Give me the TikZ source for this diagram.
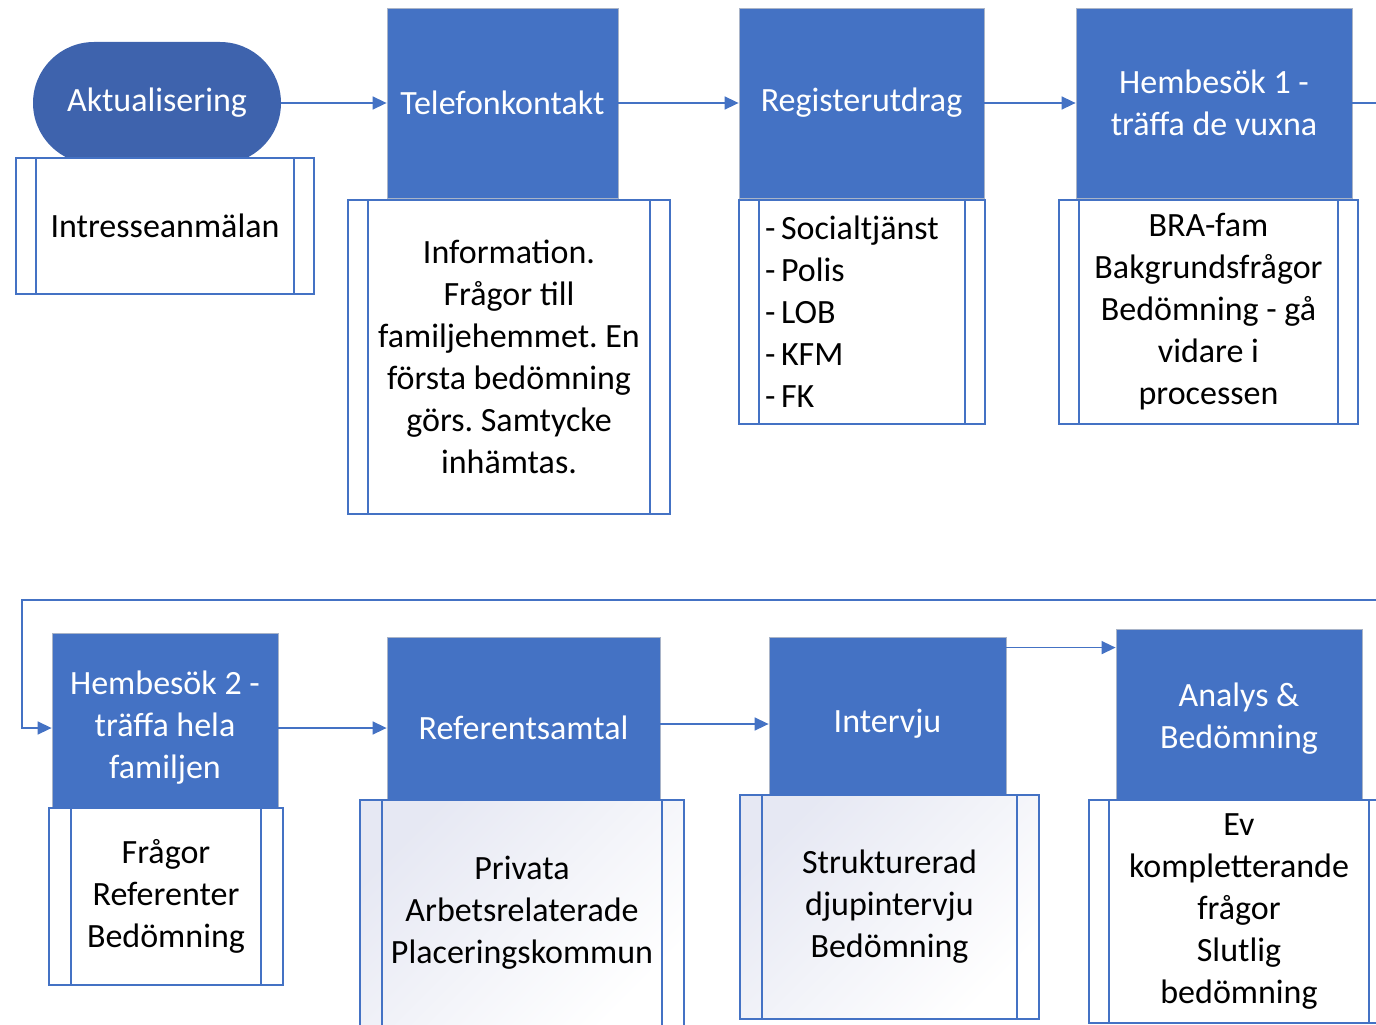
\documentclass[tikz,border=0pt]{standalone}
\usepackage{fontspec}
\setmainfont{Carlito}
\frenchspacing
\usetikzlibrary{arrows.meta}
\definecolor{hdrblue}{HTML}{4472C4}
\definecolor{startblue}{HTML}{3E63AD}
\definecolor{hdrrim}{HTML}{A9B4C8}
\definecolor{shadebg}{HTML}{E6E8F3}
\tikzset{
  hdr/.style={rectangle,fill=hdrblue,draw=hdrrim,line width=0.8pt,text=white,align=center,inner sep=0pt},
  startnode/.style={rectangle,rounded corners=61pt,fill=startblue,text=white,inner sep=0pt,
    minimum width=248pt,minimum height=122pt},
  bodybox/.style={rectangle,draw=hdrblue,fill=white,line width=1.5pt,align=center,inner sep=0pt,
    path picture={\draw[hdrblue,line width=1.5pt]
      ([xshift=#1]path picture bounding box.north west) -- ([xshift=#1]path picture bounding box.south west)
      ([xshift=-#1]path picture bounding box.north east) -- ([xshift=-#1]path picture bounding box.south east);}},
  bodybox/.default=20pt,
  softfill/.style={top color=shadebg,bottom color=white,shading angle=45},
  flow/.style={color=hdrblue,line width=1.5pt,-{Triangle[length=14pt,width=13pt]}}
}
\begin{document}
\begin{tikzpicture}[x=1pt,y=-1pt,font=\fontsize{34}{42}\selectfont]
   \useasboundingbox (0,0) rectangle (1376,1025);
   \node[startnode] (akt) at (157,103) {Aktualisering};
   \node[bodybox,minimum width=298pt,minimum height=136pt] (intr) at (165,226) {Intresseanmälan};
   \node[hdr,minimum width=231pt,minimum height=190pt] (tel) at (502.5,103) {Telefonkontakt};
   \node[bodybox,minimum width=322pt,minimum height=314pt] (info) at (509,357)
      {Information.\\Frågor till\\familjehemmet. En\\första bedömning\\görs. Samtycke\\inhämtas.};
   \node[hdr,minimum width=245pt,minimum height=190pt] (reg) at (861.5,103) {Registerutdrag};
   \node[bodybox,minimum width=246pt,minimum height=224pt,align=left,text width=194pt] (regbox) at (862,312)
      {-\,Socialtjänst\\-\,Polis\\-\,LOB\\-\,KFM\\-\,FK};
   \node[hdr,minimum width=276pt,minimum height=190pt] (hem1) at (1214,103) {Hembesök 1 -\\träffa de vuxna};
   \node[bodybox,minimum width=299pt,minimum height=224pt] (bra) at (1208.5,312)
      {BRA-fam\\Bakgrundsfrågor\\Bedömning - gå\\vidare i\\processen};
   \node[hdr,minimum width=226pt,minimum height=190pt] (hem2) at (165,728) {Hembesök 2 -\\träffa hela\\familjen};
   \node[bodybox=22pt,minimum width=234pt,minimum height=177pt] (fragor) at (166,896.5)
      {Frågor\\Referenter\\Bedömning};
   \node[hdr,minimum width=273pt,minimum height=182pt] (ref) at (523.5,728) {Referentsamtal};
   \node[bodybox=22pt,softfill,minimum width=324pt,minimum height=226pt] (priv) at (522,913)
      {Privata\\Arbetsrelaterade\\Placeringskommun};
   \node[hdr,minimum width=237pt,minimum height=174pt] (intv) at (887.5,724) {Intervju};
   \node[bodybox=22pt,softfill,minimum width=299pt,minimum height=224pt] (struk) at (889.5,907)
      {Strukturerad\\djupintervju\\Bedömning};
   \node[hdr,minimum width=246pt,minimum height=180pt] (ana) at (1239,719) {Analys \&\\Bedömning};
   \node[bodybox,minimum width=300pt,minimum height=223pt] (ev) at (1239,911.5)
      {Ev\\kompletterande\\frågor\\Slutlig\\bedömning};
   \coordinate (turnr) at (1400,600);
   \coordinate (turnl) at (22,600);
   \coordinate (ia) at ([yshift=-11pt]intv.north east);
   \path[flow]
    (akt) edge (tel)
    (tel) edge (reg)
    (reg) edge (hem1)
    (hem2) edge (ref)
    (ref.east |- intv.west) edge (intv.west)
    (ia) edge (ia -| ana.west);
   \draw[flow] (hem1.east) -| (turnr) -- (turnl) |- (hem2.west);
\end{tikzpicture}
\end{document}
